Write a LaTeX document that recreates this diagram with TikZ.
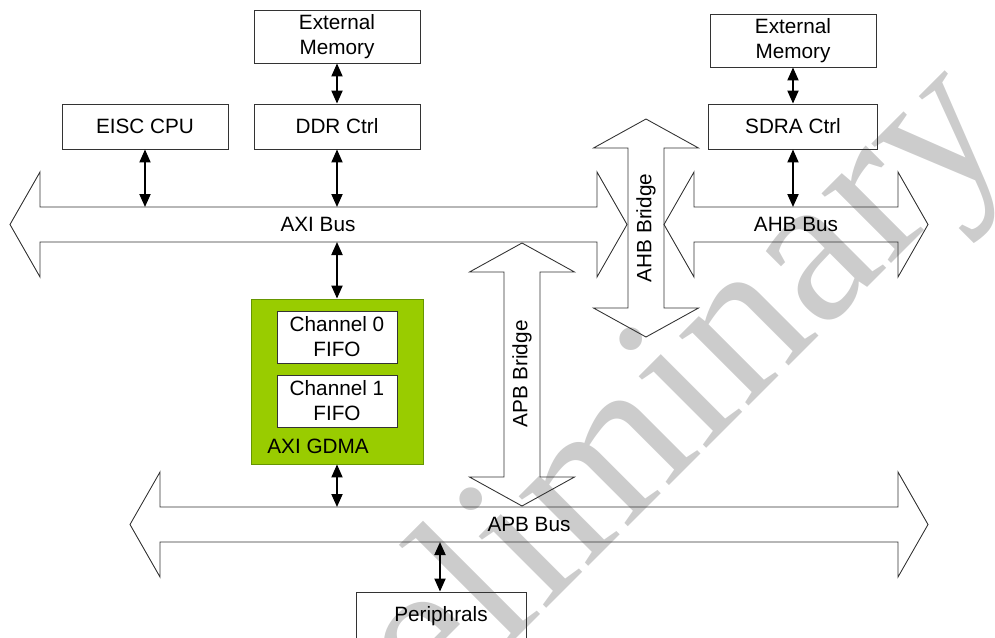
\documentclass[tikz,border=0pt]{standalone}
\usepackage{fontspec}
\setmainfont{Liberation Sans}
\newfontfamily\wmfont{Liberation Serif}
\usetikzlibrary{arrows.meta,calc,positioning}
\definecolor{gdmagreen}{RGB}{153,204,0}
\definecolor{gdmaedge}{RGB}{102,150,0}
\tikzset{
  block/.style={draw=black!80,line width=0.5pt,minimum width=3.32cm,minimum height=0.9cm,align=center,inner sep=0pt},
  fifo/.style={block,fill=white,minimum width=2.4cm,minimum height=1.04cm},
  bus/.style={draw=black!80,line width=0.5pt,line join=miter},
  link/.style={<->,line width=1.1pt},
  buslabel/.style={inner sep=0pt}
}
% horizontal bus: left tip x, right tip x, centre y
\newcommand{\hbus}[3]{%
  \draw[bus] (#1,#3) -- ++(30,-52.5) -- ++(0,35) -- ({#2-30},{#3-17.5}) -- ++(0,-35)
    -- (#2,#3) -- ++(-30,52.5) -- ++(0,-35) -- ({#1+30},{#3+17.5}) -- ++(0,35) -- cycle;}
% vertical bridge: centre x, top tip y, bottom tip y
\newcommand{\vbus}[3]{%
  \draw[bus] (#1,#2) -- ++(52.5,29) -- ++(-34.5,0) -- ({#1+18},{#3-29}) -- ++(34.5,0)
    -- (#1,#3) -- ++(-52.5,-29) -- ++(34.5,0) -- ({#1-18},{#2+29}) -- ++(-34.5,0) -- cycle;}

\begin{document}
\begin{tikzpicture}[x=0.02cm,y=-0.02cm,>={Triangle[length=0.26cm,width=0.22cm]},
    font=\fontsize{11.8}{14.2}\selectfont]
  \useasboundingbox (0,0) rectangle (995,637);

  % watermark
  \begin{scope}
    \clip (0,0) rectangle (995,637);
    \node[anchor=base west,rotate=45,inner sep=0pt,text=black!20,
      font=\wmfont\fontsize{122}{122}\selectfont] (wm) at (299,856) {Preliminary};
  \end{scope}

  % buses and bridges
  \hbus{10}{627}{224.5}
  \hbus{664}{928}{224.5}
  \hbus{130}{928}{524.5}
  \vbus{522}{243}{506}
  \vbus{646}{119}{337}

  \coordinate (axiN) at (0,207);
  \coordinate (axiS) at (0,242);
  \coordinate (ahbN) at (0,207);
  \coordinate (apbN) at (0,507);
  \coordinate (apbS) at (0,542);

  \node[buslabel] (axi) at (318,224.5) {AXI Bus};
  \node[buslabel] (ahb) at (796,224.5) {AHB Bus};
  \node[buslabel] (apb) at (529,524.5) {APB Bus};
  \node[buslabel,rotate=90] (apbbr) at (522,374) {APB Bridge};
  \node[buslabel,rotate=90] (ahbbr) at (646,228) {AHB Bridge};

  % blocks
  \node[block,minimum height=1.06cm] (mem1) at (337,36.5) {External\\Memory};
  \node[block] (ddr) at (337,126.5) {DDR Ctrl};
  \node[block] (cpu) at (145,126.5) {EISC CPU};
  \node[block,minimum height=1.06cm] (mem2) at (793,40.5) {External\\Memory};
  \node[block,minimum width=3.38cm] (sdra) at (793,126.5) {SDRA Ctrl};
  \node[block,draw=gdmaedge,fill=gdmagreen,minimum width=3.44cm,minimum height=3.3cm] (gdma) at (337,381.5) {};
  \node[fifo] (ch0) at (337,337) {Channel 0\\FIFO};
  \node[fifo] (ch1) at (337,401) {Channel 1\\FIFO};
  \node[anchor=west,inner sep=0pt] (gdmalbl) at (267,446.5) {AXI GDMA};
  \node[block,minimum width=3.4cm,minimum height=0.96cm] (periph) at (441,616) {Periphrals};

  % connections
  \draw[link] (mem1) -- (ddr);
  \draw[link] (cpu) -- (cpu.south |- axiN);
  \draw[link] (ddr) -- (ddr.south |- axiN);
  \draw[link] (gdma.north |- axiS) -- (gdma);
  \draw[link] (gdma) -- (gdma.south |- apbN);
  \draw[link] (mem2) -- (sdra);
  \draw[link] (sdra) -- (sdra.south |- ahbN);
  \draw[link] ([xshift=-0.02cm]periph.north |- apbS) -- ([xshift=-0.02cm]periph.north);
\end{tikzpicture}
\end{document}
